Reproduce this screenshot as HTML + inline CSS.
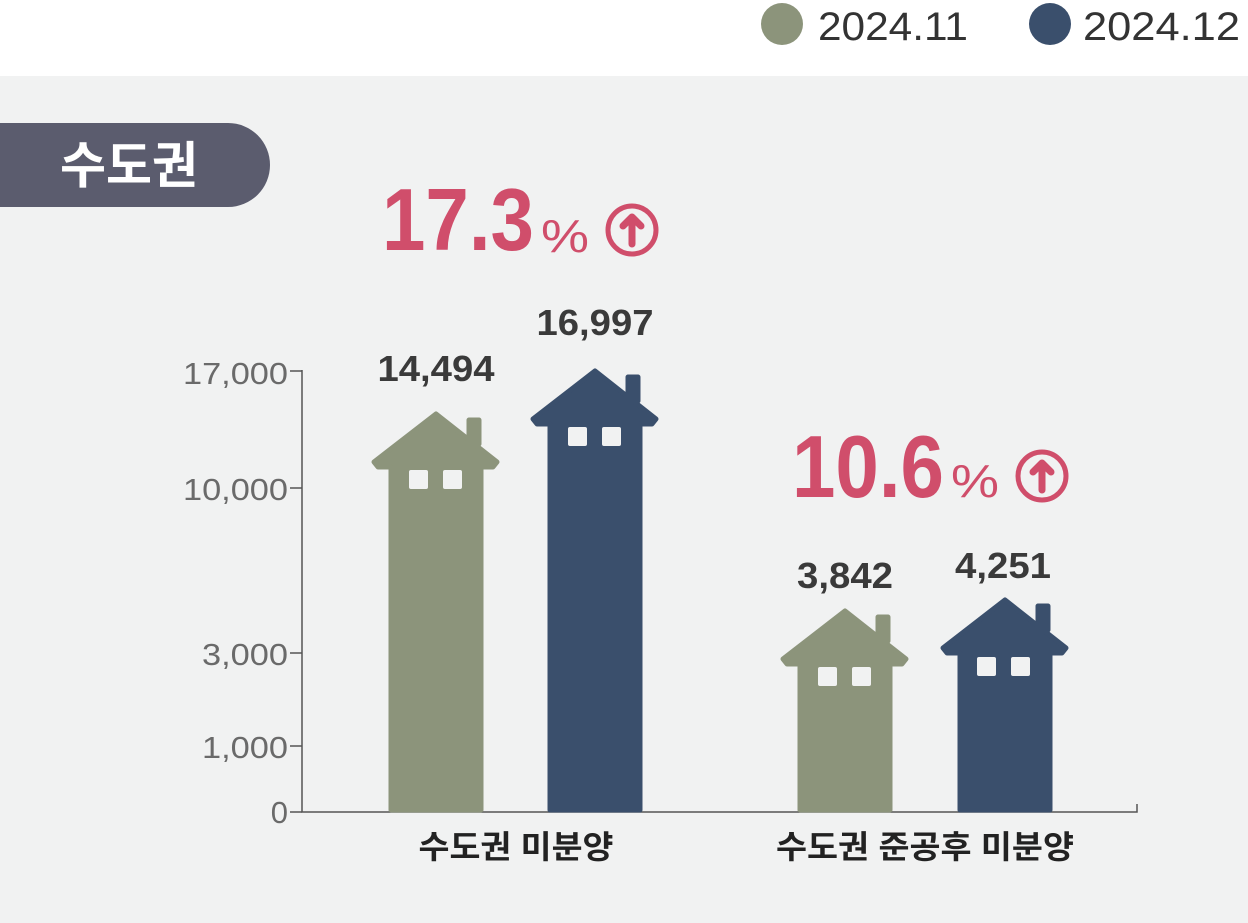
<!DOCTYPE html>
<html><head><meta charset="utf-8"><style>
html,body{margin:0;padding:0;background:#fff;}
svg{display:block;font-family:"Liberation Sans","Noto Sans CJK KR",sans-serif;}
</style></head><body>
<svg width="1248" height="923" viewBox="0 0 1248 923" xmlns="http://www.w3.org/2000/svg">
<rect x="0" y="76" width="1248" height="847" fill="#f1f2f2"/>
<!-- legend -->
<circle cx="782" cy="24" r="21" fill="#8c947b"/>
<text x="818" y="40" font-size="40" fill="#333" textLength="150" lengthAdjust="spacingAndGlyphs">2024.11</text>
<circle cx="1050" cy="24" r="21" fill="#3a4f6c"/>
<text x="1083" y="40" font-size="40" fill="#333" textLength="157" lengthAdjust="spacingAndGlyphs">2024.12</text>
<!-- pill -->
<path d="M0 123 H228 A42 42 0 0 1 228 207 H0 Z" fill="#5b5c6e"/>
<text x="60" y="183" font-size="50" font-weight="bold" fill="#fff" textLength="138" lengthAdjust="spacingAndGlyphs">수도권</text>
<!-- percents -->
<g fill="#d04e6b">
<text x="382" y="250" font-size="88" font-weight="bold" textLength="152" lengthAdjust="spacingAndGlyphs">17.3</text>
<text x="541" y="252" font-size="46" textLength="48" lengthAdjust="spacingAndGlyphs">%</text>
<text x="792" y="497" font-size="88" font-weight="bold" textLength="152" lengthAdjust="spacingAndGlyphs">10.6</text>
<text x="951" y="497" font-size="46" textLength="48" lengthAdjust="spacingAndGlyphs">%</text>
</g>
<g fill="none" stroke="#d04e6b" stroke-width="5" stroke-linecap="round" stroke-linejoin="round">
<circle cx="632" cy="230" r="24"/>
<path d="M632 244 V218 M623 226 L632 217 L641 226" stroke-width="7"/>
<circle cx="1042" cy="476" r="24"/>
<path d="M1042 490 V464 M1033 472 L1042 463 L1051 472" stroke-width="7"/>
</g>
<!-- axes -->
<g stroke="#555" stroke-width="1.5" fill="none">
<path d="M302 370 V812 H1137 V804"/>
<path d="M290 371 H302 M290 488 H302 M290 653 H302 M290 746 H302 M290 812 H302"/>
</g>
<g font-size="31" fill="#6a6a6a" text-anchor="end">
<text x="288" y="384" textLength="105" lengthAdjust="spacingAndGlyphs">17,000</text>
<text x="288" y="500" textLength="105" lengthAdjust="spacingAndGlyphs">10,000</text>
<text x="288" y="665" textLength="86" lengthAdjust="spacingAndGlyphs">3,000</text>
<text x="288" y="758" textLength="86" lengthAdjust="spacingAndGlyphs">1,000</text>
<text x="288" y="823">0</text>
</g>
<!-- houses -->
<g stroke-linejoin="round" stroke-width="5">
<g fill="#8c947b" stroke="#8c947b">
<path d="M436 414 L497 462 L493 467 L481 467 L481 810 L391 810 L391 467 L378 467 L374 462 Z"/>
<rect x="469" y="420" width="10" height="24"/>
<path d="M845 611 L906 659 L902 664 L890 664 L890 810 L800 810 L800 664 L787 664 L783 659 Z"/>
<rect x="878" y="617" width="10" height="24"/>
</g>
<g fill="#3a4f6c" stroke="#3a4f6c">
<path d="M595 371 L656 419 L652 424 L640 424 L640 810 L550 810 L550 424 L537 424 L533 419 Z"/>
<rect x="628" y="377" width="10" height="24"/>
<path d="M1005 600 L1066 648 L1062 653 L1050 653 L1050 810 L960 810 L960 653 L947 653 L943 648 Z"/>
<rect x="1038" y="606" width="10" height="24"/>
</g>
</g>
<g fill="#f1f2f2">
<rect x="409" y="470" width="19" height="19" rx="2"/><rect x="443" y="470" width="19" height="19" rx="2"/>
<rect x="568" y="427" width="19" height="19" rx="2"/><rect x="602" y="427" width="19" height="19" rx="2"/>
<rect x="818" y="667" width="19" height="19" rx="2"/><rect x="852" y="667" width="19" height="19" rx="2"/>
<rect x="977" y="657" width="19" height="19" rx="2"/><rect x="1011" y="657" width="19" height="19" rx="2"/>
</g>
<!-- values -->
<g font-size="36" font-weight="bold" fill="#3a3a3a" text-anchor="middle">
<text x="436" y="381" textLength="117" lengthAdjust="spacingAndGlyphs">14,494</text>
<text x="595" y="335" textLength="117" lengthAdjust="spacingAndGlyphs">16,997</text>
<text x="845" y="588" textLength="96" lengthAdjust="spacingAndGlyphs">3,842</text>
<text x="1003" y="578" textLength="96" lengthAdjust="spacingAndGlyphs">4,251</text>
</g>
<g font-size="32" font-weight="bold" fill="#222" text-anchor="middle">
<text x="516" y="858" textLength="195" lengthAdjust="spacingAndGlyphs">수도권 미분양</text>
<text x="925" y="858" textLength="298" lengthAdjust="spacingAndGlyphs">수도권 준공후 미분양</text>
</g>
</svg>
</body></html>
